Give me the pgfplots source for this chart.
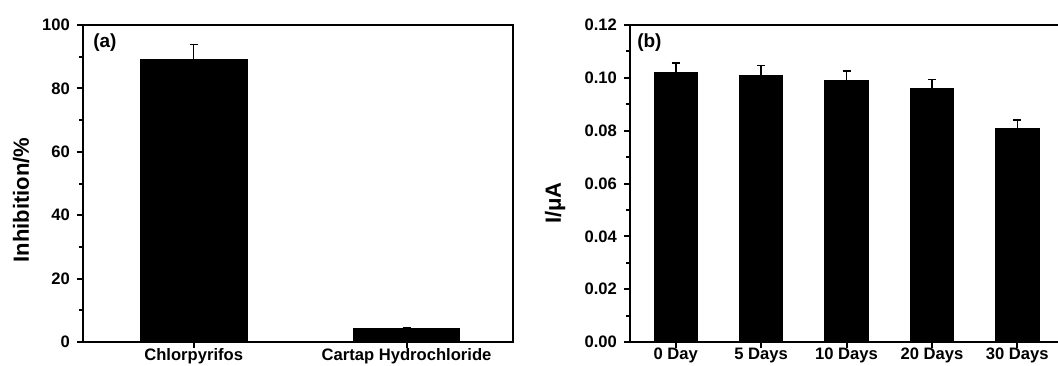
\documentclass[border=0pt]{standalone}
\usepackage{fontspec}
\setmainfont{Liberation Sans}
\usepackage{pgfplots}
\pgfplotsset{compat=1.18}
\begin{document}
\begin{tikzpicture}
\useasboundingbox (-41.5pt,-11.5pt) rectangle (487.5pt,171pt);
\clip (-41.5pt,-11.5pt) rectangle (487.5pt,171pt);
\pgfplotsset{
  common/.style={
    scale only axis,
    width=215pt, height=158.5pt,
    axis line style={line width=1.2pt},
    tick style={line width=1pt, black},
    major tick length=3pt,
    minor tick length=2pt,
    tick align=outside,
    xtick pos=bottom, ytick pos=left,
    minor y tick num=1,
    ymin=0,
    font=\bfseries\fontsize{8}{9.5}\selectfont,
    tick label style={font=\bfseries\fontsize{8.3}{9.5}\selectfont},
    xticklabel style={inner sep=0.5pt, yshift=0.5pt},
    /pgf/number format/assume math mode=true,
    xtick=data,
    error bars/y dir=plus, error bars/y explicit,
    error bars/error bar style={line width=0.8pt, black},
    error bars/error mark options={rotate=90, mark size=2pt, line width=0.8pt, black},
  }
}
\begin{axis}[common, at={(0pt,0pt)}, anchor=south west,
  xmin=-0.52, xmax=1.5, ymax=100,
  ytick={0,20,40,60,80,100},
  xticklabels={Chlorpyrifos, Cartap Hydrochloride},
  ylabel={Inhibition/\%},
  every axis y label/.style={at={(axis description cs:-0.144,0.448)}, rotate=90, anchor=center, font=\bfseries\fontsize{11}{13}\selectfont},
]
\addplot[ybar, bar width=53.3pt, fill=black, draw=black] coordinates {(0,89) +- (0,4.8) (1,4.4) +- (0,0.2)};
\node[anchor=west, inner sep=0pt, font=\bfseries\fontsize{9.5}{11}\selectfont] at (axis description cs:0.023,0.943) {(a)};
\end{axis}
\begin{axis}[common, at={(273.5pt,0pt)}, anchor=south west,
  xmin=-0.535, xmax=4.5, ymax=0.12,
  ytick={0,0.02,0.04,0.06,0.08,0.10,0.12},
  yticklabel style={/pgf/number format/.cd, fixed, fixed zerofill, precision=2},
  scaled y ticks=false,
  xticklabels={0 Day, 5 Days, 10 Days, 20 Days, 30 Days},
  ylabel={I/μA},
  every axis y label/.style={at={(axis description cs:-0.174,0.438)}, rotate=90, anchor=center, font=\bfseries\fontsize{11}{13}\selectfont},
]
\addplot[ybar, bar width=21.7pt, fill=black, draw=black] coordinates {
  (0,0.102) +- (0,0.0036)
  (1,0.101) +- (0,0.0036)
  (2,0.099) +- (0,0.0035)
  (3,0.096) +- (0,0.0034)
  (4,0.081) +- (0,0.0031)};
\node[anchor=west, inner sep=0pt, font=\bfseries\fontsize{9.5}{11}\selectfont] at (axis description cs:0.016,0.943) {(b)};
\end{axis}
\end{tikzpicture}
\end{document}
